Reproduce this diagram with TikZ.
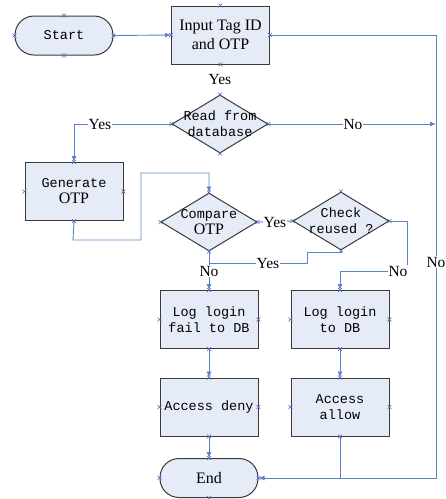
\documentclass[tikz,border=0pt]{standalone}
\usepackage{fontspec}
\setmainfont{Liberation Serif}
\setmonofont{Liberation Mono}
\usetikzlibrary{shapes.geometric,arrows.meta,calc}
\definecolor{boxfill}{HTML}{E6ECF7}
\definecolor{boxline}{HTML}{3A3A3A}
\definecolor{conn}{HTML}{5B84C8}
\definecolor{xmkcol}{HTML}{5A5FC0}
\tikzset{
  base/.style={draw=boxline, line width=1pt, fill=boxfill, inner sep=0pt, align=center, font=\ttfamily\fontsize{13.5}{16}\selectfont},
  procbox/.style={base, rectangle, minimum width=98pt, minimum height=58pt},
  termbox/.style={base, rectangle, rounded corners=19pt, minimum width=98pt, minimum height=39pt},
  decbox/.style={base, diamond, minimum width=96pt, minimum height=58pt},
  flow/.style={draw=conn, line width=0.9pt},
  arr/.style={flow, -{Latex[length=6pt,width=5pt]}},
  lab/.style={fill=white, inner sep=0.8pt, font=\rmfamily\fontsize{15.5}{16}\selectfont},
  dtext/.style={align=center, font=\ttfamily\fontsize{13.5}{16}\selectfont, inner sep=0pt},
  xmkstyle/.style={draw=xmkcol, line width=0.6pt}
}
\newcommand{\otp}{{\rmfamily\fontsize{16}{16}\selectfont OTP}}
\newcommand{\xmk}[1]{\draw[xmkstyle] ($#1+(-2pt,-2pt)$) -- ($#1+(2pt,2pt)$) ($#1+(-2pt,2pt)$) -- ($#1+(2pt,-2pt)$);}
\begin{document}
\begin{tikzpicture}[x=1pt,y=-1pt]
\useasboundingbox (0,0) rectangle (446,499);
% nodes
\node[termbox] (start) at (64,35.5) {Start};
\node[procbox, font=\rmfamily\fontsize{16}{19}\selectfont] (input) at (220.5,35) {Input Tag ID\\and OTP};
\node[decbox] (read) at (220,124) {};
\node[dtext] at (read) {Read from\\database};
\node[procbox] (gen) at (74,191.5) {Generate\\\otp};
\node[decbox] (cmp) at (209,222) {};
\node[dtext] at (cmp) {Compare\\\otp};
\node[decbox] (chk) at (341,221) {};
\node[dtext] at (chk) {Check\\reused ?};
\node[procbox] (logf) at (209,319.5) {Log login\\fail to DB};
\node[procbox] (logl) at (340,319.5) {Log login\\to DB};
\node[procbox] (deny) at (209,407) {Access deny};
\node[procbox] (allow) at (340,407) {Access\\allow};
\node[termbox, font=\rmfamily\fontsize{16}{16}\selectfont] (end) at (209,478) {End};
% coordinates
\coordinate (rt) at (436,35);
\coordinate (rn) at (436,124);
\coordinate (rb) at (436,478);
\coordinate (ab) at (340,478);
% connectors
\draw[arr] (start.east) -- (input.west);
\node[lab] at (220,79) {Yes};
\draw[flow] (input.east) -- (rt) -- (rb) -- (ab);
\draw[arr] (ab) -- (end.east);
\draw[arr] (read.east) -- (rn);
\node[lab] at (353,124) {No};
\node[lab] at (436,262) {No};
\draw[arr] (read.west) -| (gen.north);
\node[lab] at (100,124) {Yes};
\draw[arr] (gen.south) -- (73,240) -- (141,240) -- (141,173) -- (209,173) -- (cmp.north);
\draw[flow] (cmp.east) -- (chk.west);
\node[lab, inner sep=0.3pt] at (275,222) {Yes};
\draw[arr] (cmp.south) -- (logf.north);
\node[lab] at (209,271) {No};
\draw[flow] (chk.south) -- (341,252) -- (307,252) -- (307,263) -- (209,263);
\node[lab] at (268,263) {Yes};
\draw[arr] (chk.east) -- (407,221) -- (407,271) -- (340,271) -- (logl.north);
\node[lab] at (398,271) {No};
\draw[arr] (logf.south) -- (deny.north);
\draw[arr] (logl.south) -- (allow.north);
\draw[arr] (deny.south) -- (end.north);
\draw[flow] (allow.south) -- (ab);
% connection marks
\foreach \n in {start,input,read,gen,cmp,chk,logf,logl,deny,allow,end}{
  \foreach \a in {north,south,east,west}{
    \xmk{(\n.\a)}
  }
}
\end{tikzpicture}
\end{document}
